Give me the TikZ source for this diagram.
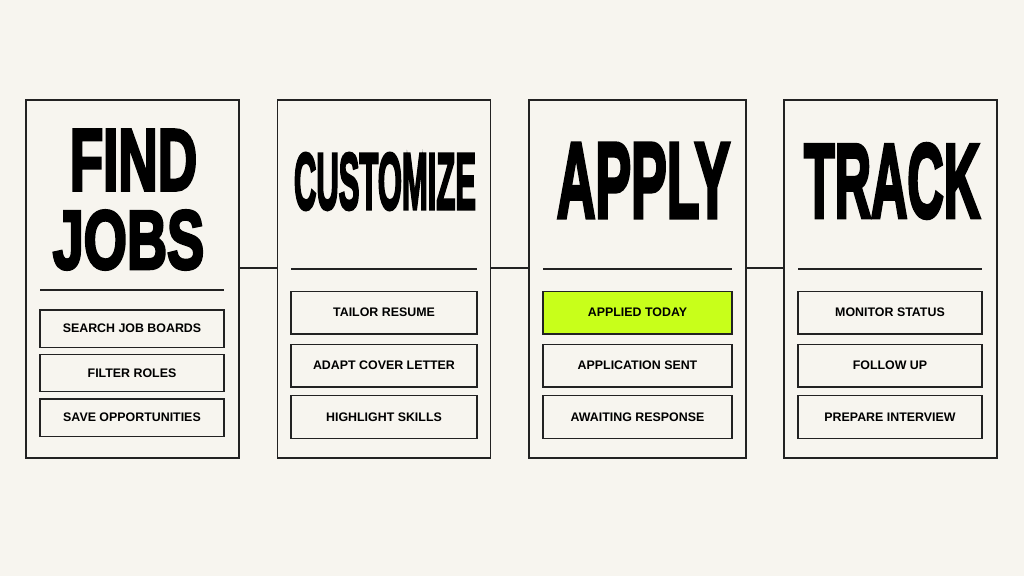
\documentclass[tikz,border=0pt]{standalone}
\usepackage{fontspec}
\setmainfont{Liberation Sans}
\newfontfamily\titlefont{Liberation Sans Bold}[FakeBold=4]
\usepackage{graphicx}
\usetikzlibrary{positioning}
\definecolor{paper}{RGB}{247, 245, 239}
\definecolor{ink}{RGB}{34, 34, 34}
\definecolor{lime}{RGB}{200, 255, 26}

\tikzset{
  card/.style={draw=ink, line width=1.1pt, fill=paper, minimum width=160pt, minimum height=268.5pt, inner sep=0pt},
  item/.style={draw=ink, line width=1pt, minimum width=139.5pt, minimum height=32pt, inner sep=0pt,
    font=\fontsize{9.3}{11}\selectfont\bfseries, text=black},
  smallitem/.style={item, minimum width=138pt, minimum height=28pt},
  title/.style={inner sep=0pt, text=black},
  divider/.style={draw=ink, line width=0.9pt},
  link/.style={draw=ink, line width=1.2pt}
}

\begin{document}
\begin{tikzpicture}[x=0.75pt, y=-0.75pt]
  \fill[paper] (0,0) rectangle (1024,576);
  \useasboundingbox (0,0) rectangle (1024,576);

  % Cards
  \node[card] (find) at (132.5, 279) {};
  \node[card] (custom) at (384, 279) {};
  \node[card, minimum width=162.75pt] (apply) at (637.5, 279) {};
  \node[card] (track) at (890.5, 279) {};

  % Connectors
  \draw[link] ([yshift=8.25pt]find.east) -- ([yshift=8.25pt]custom.west);
  \draw[link] ([yshift=8.25pt]custom.east) -- ([yshift=8.25pt]apply.west);
  \draw[link] ([yshift=8.25pt]apply.east) -- ([yshift=8.25pt]track.west);

  % Titles
  \node[title] (findA) at (133.5, 160) {\resizebox{95.5pt}{45pt}{\titlefont FIND}};
  \node[title] (findB) at (128.5, 240) {\resizebox{113.5pt}{43.5pt}{\titlefont JOBS}};
  \node[title] (customT) at (385, 181.5) {\resizebox{136.5pt}{42pt}{\titlefont CUSTOMIZE}};
  \node[title] (applyT) at (643.5, 180.5) {\resizebox{130pt}{55.5pt}{\titlefont APPLY}};
  \node[title] (trackT) at (892, 181) {\resizebox{132pt}{55pt}{\titlefont TRACK}};

  % Dividers
  \draw[divider] (40, 290) -- (224, 290);
  \draw[divider] (291, 269) -- (477, 269);
  \draw[divider] (543, 269) -- (732, 269);
  \draw[divider] (798, 269) -- (982, 269);

  % Find jobs
  \node[smallitem] (search) at (132, 328.5) {SEARCH JOB BOARDS};
  \node[smallitem] (filter) at (132, 373) {FILTER ROLES};
  \node[smallitem] (save) at (132, 417.5) {SAVE OPPORTUNITIES};

  % Customize
  \node[item] (tailor) at (384, 312.5) {TAILOR RESUME};
  \node[item] (cover) at (384, 365.5) {ADAPT COVER LETTER};
  \node[item] (skills) at (384, 417) {HIGHLIGHT SKILLS};

  % Apply
  \node[item, fill=lime, minimum width=141.75pt] (today) at (637.5, 312.5) {APPLIED TODAY};
  \node[item, minimum width=141.75pt] (sent) at (637.5, 365.5) {APPLICATION SENT};
  \node[item, minimum width=141.75pt] (await) at (637.5, 417) {AWAITING RESPONSE};

  % Track
  \node[item, minimum width=138pt] (monitor) at (890, 312.5) {MONITOR STATUS};
  \node[item, minimum width=138pt] (follow) at (890, 365.5) {FOLLOW UP};
  \node[item, minimum width=138pt] (prep) at (890, 417) {PREPARE INTERVIEW};
\end{tikzpicture}
\end{document}
